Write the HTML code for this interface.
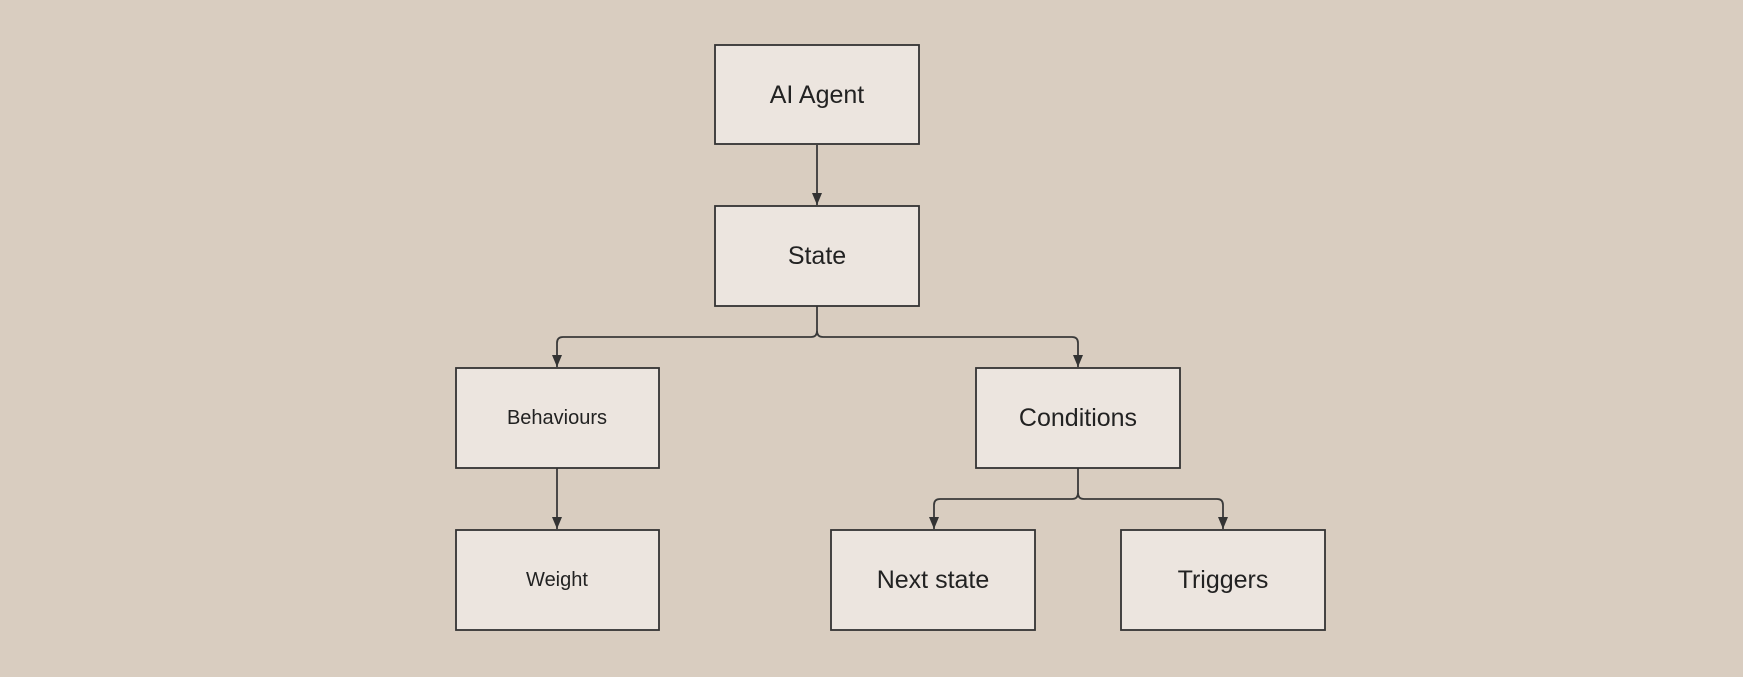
<!DOCTYPE html>
<html><head><meta charset="utf-8"><style>
html,body{margin:0;padding:0;background:#d9cdc0;}
svg{display:block}
text{font-family:"Liberation Sans",sans-serif;fill:#222;text-anchor:middle;dominant-baseline:central}
</style></head><body>
<svg width="1743" height="677" viewBox="0 0 1743 677" xmlns="http://www.w3.org/2000/svg">
<rect width="1743" height="677" fill="#d9cdc0"/>
<defs><marker id="a" markerWidth="12" markerHeight="10" refX="12" refY="5" orient="auto" markerUnits="userSpaceOnUse"><path d="M0,0 L12,5 L0,10 z" fill="#333"/></marker></defs>
<g fill="none" stroke="#3a3a3a" stroke-width="1.8">
<path d="M817,145 V205" marker-end="url(#a)"/>
<path d="M817,306 V331 Q817,337 811,337 H563 Q557,337 557,343 V367" marker-end="url(#a)"/>
<path d="M817,331 Q817,337 823,337 H1072 Q1078,337 1078,343 V367" marker-end="url(#a)"/>
<path d="M557,468 V529" marker-end="url(#a)"/>
<path d="M1078,468 V493 Q1078,499 1072,499 H940 Q934,499 934,505 V529" marker-end="url(#a)"/>
<path d="M1078,493 Q1078,499 1084,499 H1217 Q1223,499 1223,505 V529" marker-end="url(#a)"/>
</g>
<g fill="#ece5df" stroke="#333" stroke-width="1.8">
<rect x="715" y="45" width="204" height="99"/>
<rect x="715" y="206" width="204" height="100"/>
<rect x="456" y="368" width="203" height="100"/>
<rect x="976" y="368" width="204" height="100"/>
<rect x="456" y="530" width="203" height="100"/>
<rect x="831" y="530" width="204" height="100"/>
<rect x="1121" y="530" width="204" height="100"/>
</g>
<text x="817" y="95" font-size="25">AI Agent</text>
<text x="817" y="256" font-size="25">State</text>
<text x="557" y="418" font-size="20">Behaviours</text>
<text x="1078" y="418" font-size="25">Conditions</text>
<text x="557" y="580" font-size="20">Weight</text>
<text x="933" y="580" font-size="25">Next state</text>
<text x="1223" y="580" font-size="25">Triggers</text>
</svg>
</body></html>
